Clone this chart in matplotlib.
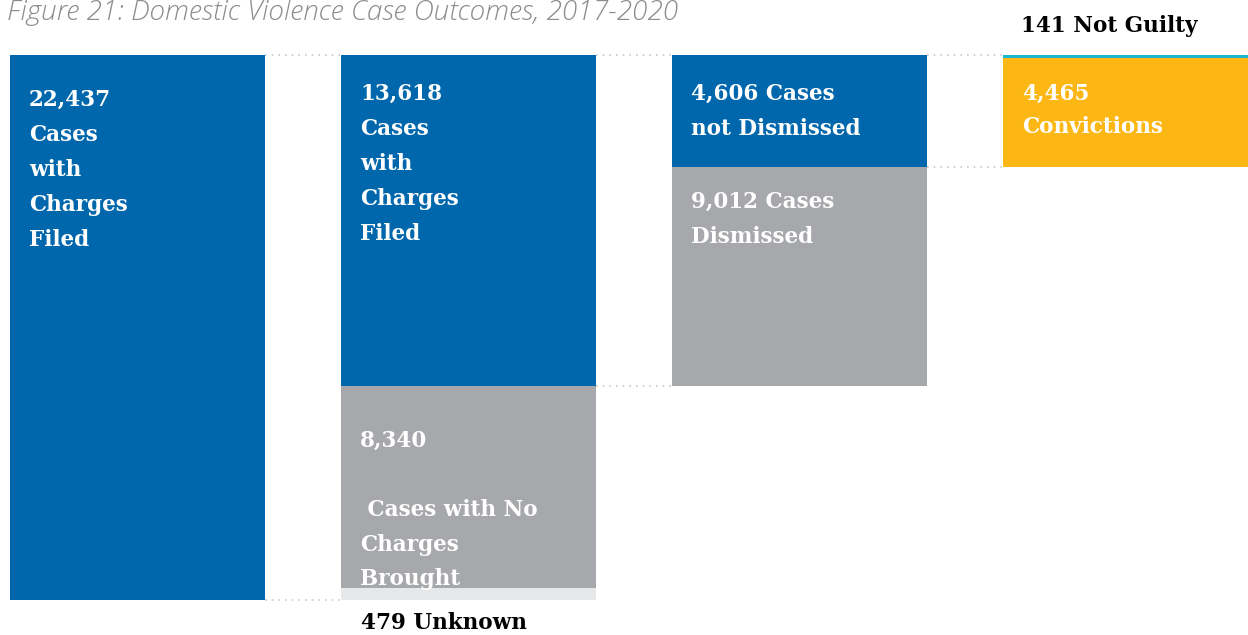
import matplotlib.pyplot as plt
from matplotlib.lines import Line2D

# ── Data ──────────────────────────────────────────────
stages = ["Filed", "Charged", "Dismissal", "Outcome"]
seg_values = [
    [22437],
    [13618, 8340, 479],
    [4606, 9012],
    [141, 4465],
]
seg_colors = [
    ["#0067ac"],
    ["#0067ac", "#a7a8ab", "#e6e7e8"],
    ["#0067ac", "#a7a8ab"],
    ["#1bb5d4", "#fdb714"],
]
seg_labels = [
    ["22,437\nCases\nwith\nCharges\nFiled"],
    ["13,618\nCases\nwith\nCharges\nFiled",
     "8,340\n\n Cases with No\nCharges\nBrought", None],
    ["4,606 Cases\nnot Dismissed", "9,012 Cases\nDismissed"],
    [None, "4,465\nConvictions"],
]
outside_labels = {(1, 2): "479 Unknown", (3, 0): "141 Not Guilty"}
title = "Figure 21: Domestic Violence Case Outcomes, 2017-2020"

TOTAL = seg_values[0][0]
BAR_W = 0.77
LABEL_FONT = ["DejaVu Serif"]

# vertical pixel offset of each inside label from its segment top
LABEL_DY = {(0, 0): -34, (1, 0): -28, (1, 1): -44, (2, 0): -28,
            (2, 1): -24, (3, 1): -24}
LINESP = {(1, 1): 1.74, (3, 1): 1.7}

fig = plt.figure(figsize=(12.48, 6.35), dpi=100, facecolor="white")
ax = fig.add_axes([0, 1 - 600 / 635, 1, (600 - 55) / 635])
ax.set_xlim(-137.5 / 331, (1248 - 137.5) / 331)
ax.set_ylim(TOTAL, 0)
ax.axis("off")

# ── Stacked segments (top down) ───────────────────────
for i, (vals, cols, labs) in enumerate(zip(seg_values, seg_colors, seg_labels)):
    top = 0
    for j, (v, c, lab) in enumerate(zip(vals, cols, labs)):
        ax.bar(i, v, bottom=top, width=BAR_W, color=c, align="center",
               linewidth=0, zorder=2)
        left = i - BAR_W / 2
        if lab:
            ax.annotate(lab, xy=(left, top), xytext=(19, LABEL_DY[(i, j)]),
                        textcoords="offset pixels", ha="left", va="top",
                        color="white", fontsize=15.5, fontweight="bold",
                        family=LABEL_FONT,
                        linespacing=LINESP.get((i, j), 1.77), zorder=4)
        if (i, j) in outside_labels:
            if i == 1:
                ax.annotate(outside_labels[(i, j)], xy=(left, top + v),
                            xytext=(20, -12), textcoords="offset pixels",
                            ha="left", va="top", color="black",
                            fontsize=15.5, fontweight="bold",
                            family=LABEL_FONT, annotation_clip=False)
            else:
                ax.annotate(outside_labels[(i, j)], xy=(left, top),
                            xytext=(18, 18), textcoords="offset pixels",
                            ha="left", va="bottom", color="black",
                            fontsize=15.5, fontweight="bold",
                            family=LABEL_FONT, annotation_clip=False)
        top += v

# ── Dotted connectors between bars ────────────────────
def connector(i, y):
    ax.add_line(Line2D([i + BAR_W / 2, i + 1 - BAR_W / 2], [y, y],
                       color="#c8c9cb", linestyle=(0, (1, 3)),
                       linewidth=1.2, zorder=1, clip_on=False))

for i in range(3):
    connector(i, 0)
connector(0, TOTAL)
connector(1, seg_values[1][0])
connector(2, seg_values[2][0])

fig.text(0.006, 1 - 20 / 635, title, ha="left", va="baseline",
         fontsize=20.2, style="italic", color="#8c8c8c",
         family=["Open Sans", "DejaVu Sans"], fontweight="light")

fig.savefig("out.png", dpi=100, facecolor="white")
